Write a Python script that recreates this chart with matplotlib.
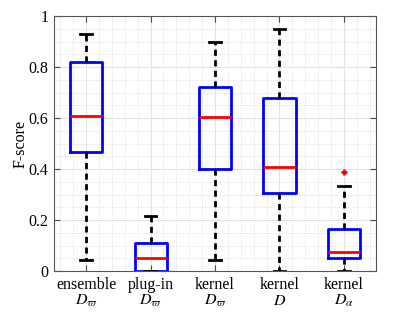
import matplotlib
matplotlib.use("Agg")
import matplotlib.pyplot as plt
from matplotlib.ticker import MultipleLocator

plt.rcParams['font.family'] = ['Liberation Serif', 'DejaVu Serif']
plt.rcParams['mathtext.fontset'] = 'stix'

labels = ["ensemble\n$D_{\\varpi}$", "plug-in\n$D_{\\varpi}$", "kernel\n$D_{\\varpi}$",
          "kernel\n$D$", "kernel\n$D_{\\alpha}$"]
whislo = [0.043, 0.0, 0.043, 0.0, 0.0]
q1 = [0.468, 0.0, 0.40, 0.307, 0.05]
med = [0.607, 0.05, 0.603, 0.409, 0.076]
q3 = [0.82, 0.111, 0.723, 0.677, 0.165]
whishi = [0.93, 0.214, 0.899, 0.948, 0.335]
fliers = [[], [], [], [], [0.39]]

stats = []
for i in range(len(labels)):
    stats.append(dict(whislo=whislo[i], q1=q1[i], med=med[i], q3=q3[i],
                      whishi=whishi[i], fliers=fliers[i], label=labels[i]))

fig = plt.figure(figsize=(4.15, 3.12), dpi=100)
ax = fig.add_axes([54/415, 1-271/312, (376-54)/415, (271-16)/312])

ax.bxp(stats, widths=0.5, capwidths=0.18, showfliers=True,
       boxprops=dict(color='#0000ff', linewidth=2),
       medianprops=dict(color='#ff0000', linewidth=2),
       whiskerprops=dict(color='black', linewidth=2, linestyle=(0, (2.2, 1.6))),
       capprops=dict(color='black', linewidth=2),
       flierprops=dict(marker='+', markeredgecolor='#ff0000', markersize=5, markeredgewidth=2))

ax.set_xlim(0.5, 5.5)
ax.set_ylim(0, 1)
ax.yaxis.set_minor_locator(MultipleLocator(0.05))
ax.xaxis.set_minor_locator(MultipleLocator(0.2))
ax.set_yticks([0, 0.2, 0.4, 0.6, 0.8, 1.0])
ax.set_yticklabels(['0', '0.2', '0.4', '0.6', '0.8', '1'])
ax.grid(True, which='major', color='#e3e3e3', linewidth=0.8)
ax.grid(True, which='minor', color='#d4d4d4', linewidth=0.6, linestyle=':')
ax.set_axisbelow(True)
ax.tick_params(which='major', direction='in', length=4, top=True, right=True,
               labelsize=11.5, color='#444444', width=0.8, pad=4)
ax.tick_params(which='minor', length=0)
for s in ax.spines.values():
    s.set_color('#555555')
    s.set_linewidth(0.8)
ax.set_ylabel('F-score', fontsize=11.5, labelpad=0)
for t in ax.get_xticklabels():
    t.set_linespacing(1.05)

fig.savefig('out.png', dpi=100)
